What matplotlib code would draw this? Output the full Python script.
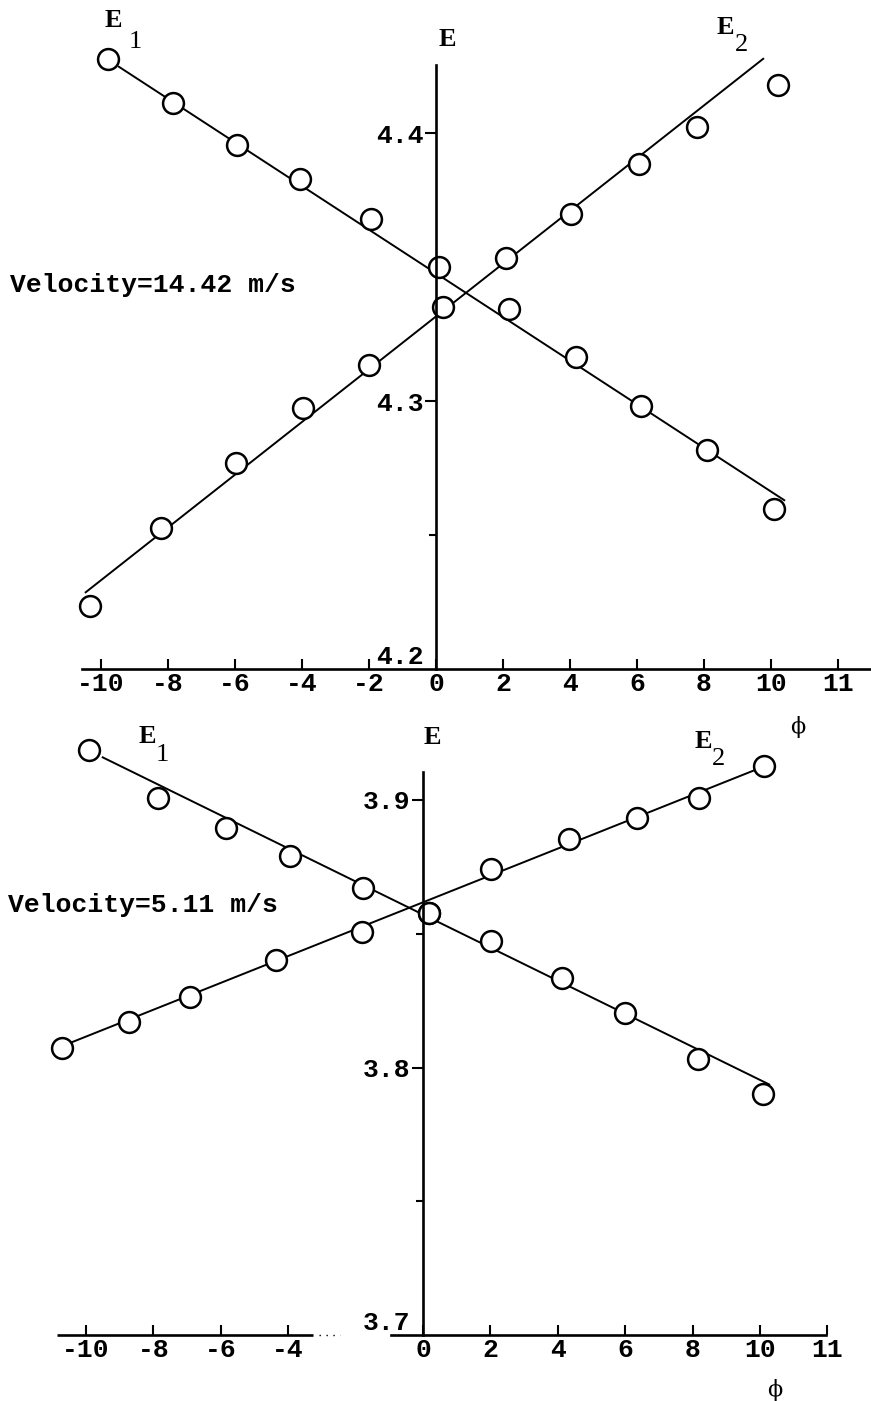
import matplotlib
matplotlib.use("Agg")
import matplotlib.pyplot as plt
from matplotlib.ticker import FixedLocator

# --- DADOS: tensões E1 / E2 em função do ângulo phi ---
# Velocidade 14.42 m/s
phi_e1_alta = [-9.8, -7.85, -5.94, -4.06, -1.94, 0.1, 2.18, 4.18, 6.12, 8.09, 10.09]
e1_alta = [4.4277, 4.4112, 4.3955, 4.3828, 4.3679, 4.3499, 4.3342, 4.3163, 4.2983, 4.2819, 4.2598]
phi_e2_alta = [-10.33, -8.21, -5.97, -3.97, -2.0, 0.21, 2.09, 4.03, 6.06, 7.79, 10.21]
e2_alta = [4.2236, 4.2527, 4.2770, 4.2976, 4.3133, 4.3353, 4.3533, 4.3697, 4.3884, 4.4022, 4.4179]
# retas ajustadas (extremos)
reta_e1_alta_x = [-9.49, 10.42]
reta_e1_alta_y = [4.4250, 4.2628]
reta_e2_alta_x = [-10.48, 9.79]
reta_e2_alta_y = [4.2284, 4.4280]

# Velocidade 5.11 m/s
phi_e1_baixa = [-9.91, -7.86, -5.85, -3.95, -1.78, 0.18, 2.02, 4.12, 6.0, 8.16, 10.09]
e1_baixa = [3.9187, 3.9007, 3.8895, 3.8791, 3.8671, 3.8578, 3.8473, 3.8335, 3.8204, 3.8032, 3.7901]
phi_e2_baixa = [-10.71, -8.72, -6.91, -4.36, -1.81, 0.18, 2.02, 4.33, 6.35, 8.19, 10.12]
e2_baixa = [3.8073, 3.8170, 3.8264, 3.8402, 3.8507, 3.8578, 3.8742, 3.8854, 3.8933, 3.9007, 3.9127]
reta_e1_baixa_x = [-9.53, 10.3]
reta_e1_baixa_y = [3.9161, 3.7935]
reta_e2_baixa_x = [-10.47, 9.85]
reta_e2_baixa_y = [3.8092, 3.9112]

# eixos
ticks_phi_alta = [-10, -8, -6, -4, -2, 0, 2, 4, 6, 8, 10, 12]
rotulos_phi_alta = ["-10", "-8", "-6", "-4", "-2", "0", "2", "4", "6", "8", "10", "11"]
ticks_phi_baixa = [-10, -8, -6, -4, 0, 2, 4, 6, 8, 10, 12]
rotulos_phi_baixa = ["-10", "-8", "-6", "-4", "0", "2", "4", "6", "8", "10", "11"]
ticks_e_alta = [4.2, 4.3, 4.4]
ticks_e_alta_menor = [4.25, 4.35]
ticks_e_baixa = [3.7, 3.8, 3.9]
ticks_e_baixa_menor = [3.75, 3.85]

MONO = "Liberation Mono"
SERIF = "Liberation Serif"
TAM_MONO = 19
TAM_E = 19


def desenhar_serie(ax, px, py, rx, ry):
    ax.plot(rx, ry, color="black", lw=1.4, zorder=2, solid_capstyle="butt")
    ax.plot(px, py, "o", ms=15, mfc="white", mec="black", mew=1.8, zorder=3,
            clip_on=False)


def preparar_eixos(ax, y_eixo, y_topo, ticks_x, rotulos_x, ticks_y, ticks_y_menor):
    for lado in ("top", "right"):
        ax.spines[lado].set_visible(False)
    ax.spines["left"].set_position(("data", 0))
    ax.spines["bottom"].set_position(("data", y_eixo))
    ax.spines["left"].set_bounds(y_eixo, y_topo)
    for lado in ("left", "bottom"):
        ax.spines[lado].set_linewidth(1.9)
        ax.spines[lado].set_zorder(4)
    ax.patch.set_visible(False)

    ax.set_xticks(ticks_x)
    ax.set_xticklabels(rotulos_x, fontfamily=MONO, fontsize=TAM_MONO, fontweight="bold")
    ax.tick_params(axis="x", direction="in", length=7, width=1.5, pad=2)

    ax.set_yticks(ticks_y)
    ax.set_yticklabels([f"{v:.1f}" for v in ticks_y], fontfamily=MONO,
                       fontsize=TAM_MONO, fontweight="bold")
    ax.yaxis.set_minor_locator(FixedLocator(ticks_y_menor))
    ax.tick_params(axis="y", which="major", direction="out", length=8, width=1.5, pad=1)
    ax.tick_params(axis="y", which="minor", direction="out", length=5, width=1.5)
    # o rótulo do canto fica acima do eixo x, sem traço
    primeiro = ax.yaxis.get_major_ticks()[0]
    primeiro.tick1line.set_visible(False)
    ax.get_yticklabels()[0].set_va("bottom")


def rotulo_e(ax, x, y, indice=None, dx=0.0, dy=0.0):
    ax.text(x, y, "E", fontfamily=SERIF, fontsize=TAM_E, fontweight="bold",
            ha="center", va="center")
    if indice:
        ax.text(x + dx, y + dy, indice, fontfamily=SERIF, fontsize=TAM_E,
                ha="center", va="center")


fig = plt.figure(figsize=(8.71, 14.01), dpi=100)

# --- PAINEL SUPERIOR (14.42 m/s) ---
ax1 = fig.add_axes([0, 700 / 1401, 1, 701 / 1401])
ax1.set_xlim(-13.015, 12.985)
ax1.set_ylim(4.18804, 4.44972)
preparar_eixos(ax1, 4.2, 4.4254, ticks_phi_alta, rotulos_phi_alta,
               ticks_e_alta, ticks_e_alta_menor)
ax1.spines["bottom"].set_bounds(-10.57, 12.985)

desenhar_serie(ax1, phi_e1_alta, e1_alta, reta_e1_alta_x, reta_e1_alta_y)
desenhar_serie(ax1, phi_e2_alta, e2_alta, reta_e2_alta_x, reta_e2_alta_y)

rotulo_e(ax1, -9.64, 4.4422, "1", dx=0.65, dy=-0.0082)
rotulo_e(ax1, 0.33, 4.4348)
rotulo_e(ax1, 8.63, 4.4396, "2", dx=0.5, dy=-0.0067)
ax1.text(-12.72, 4.3432, "Velocity=14.42 m/s", fontfamily=MONO, fontsize=TAM_MONO,
         fontweight="bold", ha="left", va="center")

# --- PAINEL INFERIOR (5.11 m/s) ---
ax2 = fig.add_axes([0, 0, 1, 701 / 1401])
ax2.set_xlim(-12.552, 13.294)
ax2.set_ylim(3.67533, 3.93738)
preparar_eixos(ax2, 3.7, 3.9105, ticks_phi_baixa, rotulos_phi_baixa,
               ticks_e_baixa, ticks_e_baixa_menor)
# eixo phi interrompido entre -3 e -1
ax2.spines["bottom"].set_bounds(-0.95, 11.96)
ax2.plot([-10.86, -3.26], [3.7, 3.7], color="black", lw=1.9, zorder=4,
         solid_capstyle="butt")
ax2.plot([-3.1, -2.46], [3.7, 3.7], color="black", lw=1.0, ls=(0, (1, 4)), zorder=4)

desenhar_serie(ax2, phi_e1_baixa, e1_baixa, reta_e1_baixa_x, reta_e1_baixa_y)
desenhar_serie(ax2, phi_e2_baixa, e2_baixa, reta_e2_baixa_x, reta_e2_baixa_y)

rotulo_e(ax2, -8.19, 3.9236, "1", dx=0.45, dy=-0.0068)
rotulo_e(ax2, 0.27, 3.9232)
rotulo_e(ax2, 8.31, 3.9217, "2", dx=0.45, dy=-0.0062)
ax2.text(-12.31, 3.8607, "Velocity=5.11 m/s", fontfamily=MONO, fontsize=TAM_MONO,
         fontweight="bold", ha="left", va="center")

# rótulos do eixo phi
fig.text(798 / 871, 1 - 727 / 1401, "ϕ", fontfamily="DejaVu Serif", fontsize=16,
         ha="center", va="center")
fig.text(775 / 871, 1 - 1390 / 1401, "ϕ", fontfamily="DejaVu Serif", fontsize=16,
         ha="center", va="center")

fig.savefig("out.png", dpi=100, facecolor="white")
